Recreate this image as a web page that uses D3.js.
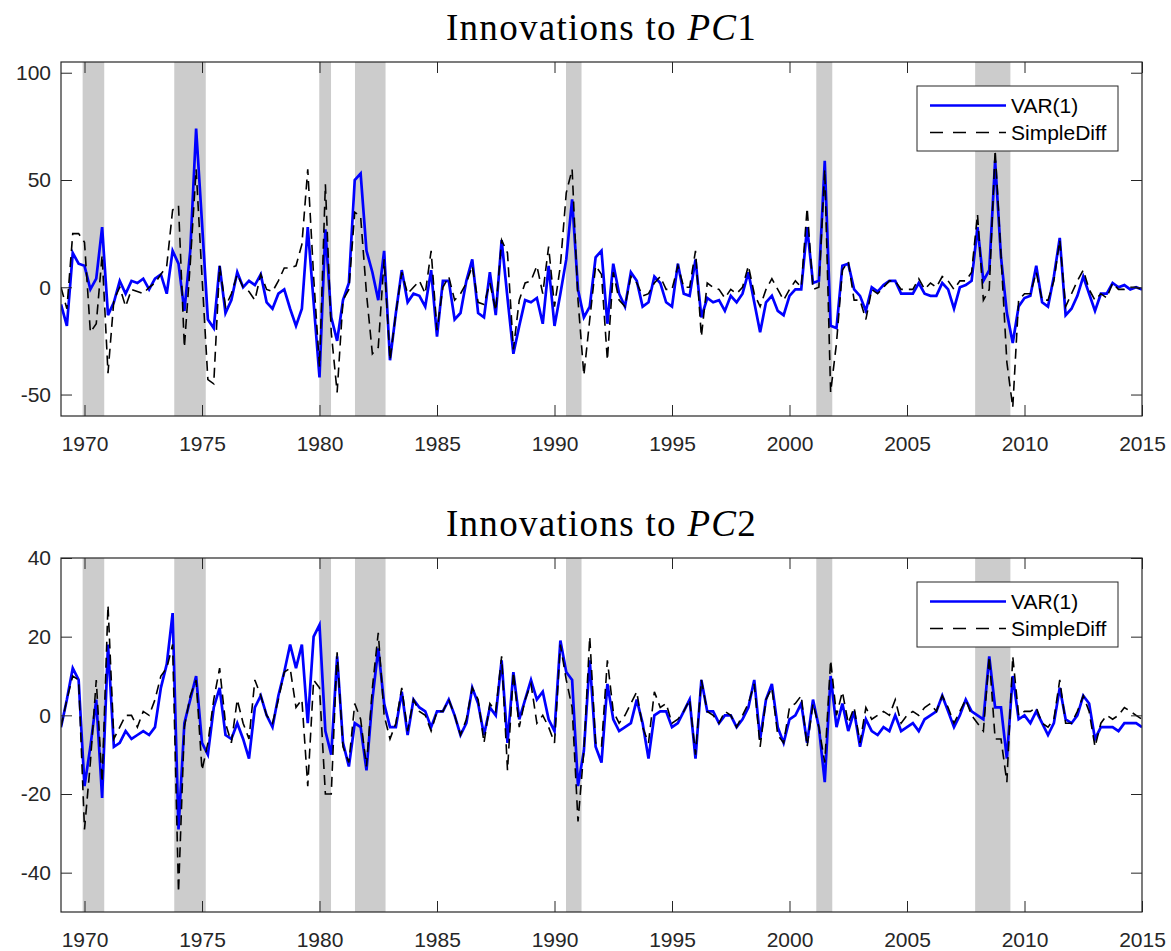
<!DOCTYPE html>
<html>
<head>
<meta charset="utf-8">
<script src="https://cdn.jsdelivr.net/npm/d3@7/dist/d3.min.js"></script>
<style>
  body { margin: 0; background: #fff; }
  svg { display: block; }
</style>
</head>
<body>
<div id="viz"></div>
<script>
// quarterly observations, 1969Q1 .. 2015Q1
const startYear = 1969;
const xDomain = [1969, 2015];
const xTicks = [1970, 1975, 1980, 1985, 1990, 1995, 2000, 2005, 2010, 2015];
const pc1Ticks = [-50, 0, 50, 100];
const pc2Ticks = [-40, -20, 0, 20, 40];
const seriesNames = ['VAR(1)', 'SimpleDiff'];
const titles = ['1', '2'];

// NBER recessions (decimal years)
const recessions = [
  [1969.92, 1970.84], [1973.82, 1975.16], [1979.99, 1980.49], [1981.51, 1982.81],
  [1990.49, 1991.15], [2001.14, 2001.82], [2007.90, 2009.40],
];

const pc1Var = [
  -8, -18, 16, 11, 10, -1, 4, 28, -13, -7,
  3, -3, 3, 2, 4, -1, 4, 6, -3, 17,
  11, -11, 17, 74, 30, -15, -19, 10, -12, -6,
  7, 0, 3, 1, 6, -7, -10, -3, -1, -10,
  -18, -10, 28, -7, -42, 27, -14, -25, -6, 2,
  50, 53, 17, 7, -6, 17, -34, -12, 8, -7,
  -3, -4, -9, 8, -23, 3, 3, -15, -12, 3,
  13, -12, -14, 7, -13, 22, -5, -31, -18, -6,
  -7, -5, -17, 10, -18, -3, 13, 41, -1, -14,
  -9, 14, 17, -17, 11, -3, -9, 7, 3, -9,
  -7, 5, 2, -7, -9, 11, -3, -4, 13, -14,
  -5, -7, -6, -11, -4, -7, -3, 7, -7, -21,
  -7, -4, -11, -13, -4, -1, -1, 28, 2, 3,
  59, -18, -19, 10, 11, -1, -4, -11, 0, -2,
  1, 3, 3, -3, -3, -3, 2, -3, -4, -4,
  2, -1, -10, 0, 1, 3, 28, 3, 8, 59,
  14, -12, -26, -9, -5, -4, 10, -7, -9, 5,
  23, -13, -10, -4, 5, -3, -11, -3, -3, 2,
  0, 1, -1, 0, -1,
];

const pc1Diff = [
  0, -10, 25, 25, 21, -21, -17, 15, -40, -6,
  0, -9, -1, -2, -3, 0, 2, 6, 10, 36,
  38, -28, 11, 55, 5, -43, -45, 10, -9, -3,
  6, 0, -2, -6, 6, -1, -2, 3, 9, 9,
  10, 20, 55, 5, -37, 48, -21, -49, -6, -1,
  35, 33, -3, -31, -28, 13, -34, -12, 7, -3,
  0, 3, -3, 17, -20, 0, 5, -6, -3, 2,
  10, -7, -8, 2, -11, 22, 16, -29, -6, 2,
  3, 10, -3, 19, -9, 10, 44, 55, -6, -41,
  -15, 10, 6, -34, 7, -6, -9, 5, 2, -4,
  -3, 2, 5, -1, -1, 10, 0, 0, 17, -23,
  2, 0, -1, -5, -1, -3, 0, 10, -3, -9,
  -1, 4, -1, -6, -1, 3, 0, 37, -1, 0,
  55, -49, -26, 8, 12, -6, -6, -15, -1, -3,
  0, 3, 3, -1, -1, -1, 4, -1, 2, 0,
  5, 3, -1, 3, 3, 7, 34, -6, -1, 64,
  15, -35, -56, -6, -3, -3, 7, -6, -6, 3,
  22, -9, -3, 3, 8, -1, -6, -3, -5, 2,
  -1, -1, 0, 0, -1,
];

const pc2Var = [
  -3, 4, 12, 9, -18, -8, 4, -21, 18, -8,
  -7, -4, -6, -5, -4, -5, -3, 7, 13, 26,
  -29, -2, 4, 10, -7, -10, 2, 7, -5, -6,
  -2, -6, -11, 2, 5, 0, -3, 5, 11, 18,
  12, 18, -2, 20, 23, -4, -10, 15, -7, -13,
  -2, -3, -14, 4, 17, 3, -3, -3, 6, -5,
  4, 2, 1, -3, 1, 1, 4, 0, -5, -2,
  7, 3, -5, 2, 0, 14, -7, 11, -1, 4,
  9, 4, 6, -1, -4, 19, 11, 9, -18, -9,
  14, -8, -12, 8, -1, -4, -3, -2, 4, -2,
  -11, 0, 1, 1, -3, -2, 1, 4, -11, 9,
  1, 1, -2, 0, 0, -3, -1, 2, 9, -6,
  4, 8, -3, -7, -1, 0, 3, -7, 4, -3,
  -17, 10, -3, 3, -4, 1, -8, -1, -4, -5,
  -3, -4, 0, -4, -3, -2, -4, -1, 0, 1,
  5, 1, -3, 0, 4, 1, 0, -1, 15, 2,
  2, -11, 10, -1, 0, -2, 1, -2, -5, -2,
  7, -1, -2, 0, 5, 3, -6, -3, -3, -3,
  -4, -2, -2, -2, -3,
];

const pc2Diff = [
  -3, 4, 10, 9, -29, -12, 9, -17, 28, -6,
  -3, 0, 0, -3, 1, 0, 4, 10, 12, 18,
  -45, -3, 5, 9, -14, -7, 4, 12, -2, -7,
  4, -2, -6, 9, 5, 0, -2, 4, 11, 12,
  2, 4, -18, 9, 7, -20, -20, 16, -8, -12,
  3, -1, -13, 7, 21, 0, -6, -2, 7, -4,
  4, 1, 0, -4, 1, 1, 4, 0, -5, -1,
  7, 4, -7, 3, 1, 15, -14, 11, -3, 4,
  8, -2, 0, -3, -7, 18, 9, 2, -27, -9,
  20, -7, -8, 14, 1, -2, 0, 3, 6, -3,
  -7, 6, 2, 3, -2, -1, 1, 4, -10, 9,
  1, 0, -2, 1, 0, -3, 0, 3, 8, -8,
  4, 7, -5, -7, 2, 3, 5, -8, 3, -3,
  -12, 14, 0, 6, -2, 2, -7, 2, -1, 0,
  1, 0, 4, -2, 0, 1, 0, 2, 3, 1,
  5, 2, -2, 1, 4, 0, -2, -4, 15, -6,
  -6, -17, 15, 0, 1, 1, 2, -2, -3, -1,
  9, -2, -2, 1, 5, 1, -8, -2, 0, -1,
  0, 2, 1, 0, -1,
];

const width = 1171;
const height = 951;
const plotLeft = 61;
const plotRight = 1142;
const plotHeight = 354;
const axisColor = '#262626';
const varColor = '#0000ff';
const diffColor = '#000000';
const shadeColor = '#cccccc';
const dashPattern = '10,6';
const legendDash = '13,10';
const tickFont = '"Liberation Sans", Arial, Helvetica, sans-serif';
const titleFont = '"Liberation Serif", "Times New Roman", serif';

const svg = d3.select('#viz').append('svg')
  .attr('width', width)
  .attr('height', height);

/** one panel: shaded recessions, the two innovation series, box axes, legend and title */
function drawPanel({top, pcNum, varData, diffData, yDomain, yTicks, idx}) {
  const x = d3.scaleLinear().domain(xDomain).range([plotLeft, plotRight]);
  const y = d3.scaleLinear().domain(yDomain).range([top + plotHeight, top]);
  const dates = varData.map((_, i) => startYear + i / 4);
  const g = svg.append('g');

  g.append('clipPath').attr('id', 'clip' + idx)
    .append('rect')
    .attr('x', plotLeft).attr('y', top)
    .attr('width', plotRight - plotLeft).attr('height', plotHeight);

  // recession shading
  g.append('g').selectAll('rect').data(recessions).join('rect')
    .attr('x', d => x(d[0]))
    .attr('width', d => x(d[1]) - x(d[0]))
    .attr('y', top)
    .attr('height', plotHeight)
    .attr('fill', shadeColor);

  const line = d3.line()
    .x((d, i) => x(dates[i]))
    .y(d => y(d));

  const lines = g.append('g').attr('clip-path', `url(#clip${idx})`);
  lines.append('path')
    .attr('d', line(varData))
    .style('fill', 'none')
    .style('stroke', varColor)
    .style('stroke-width', 2.7);
  lines.append('path')
    .attr('d', line(diffData))
    .style('fill', 'none')
    .style('stroke', diffColor)
    .style('stroke-width', 1.6)
    .style('stroke-dasharray', dashPattern);

  // axes, ticks pointing inward on all four sides
  const styleAxis = sel => {
    sel.select('.domain').remove();
    sel.selectAll('line').attr('stroke', axisColor);
    sel.selectAll('text')
      .attr('fill', axisColor)
      .style('font-family', tickFont)
      .style('font-size', '21px');
  };
  g.append('g')
    .attr('transform', `translate(0,${top + plotHeight})`)
    .call(d3.axisBottom(x).tickValues(xTicks).tickSize(-11).tickPadding(20).tickFormat(d => String(d)))
    .call(styleAxis);
  g.append('g')
    .attr('transform', `translate(0,${top})`)
    .call(d3.axisTop(x).tickValues(xTicks).tickSize(-11).tickFormat(''))
    .call(styleAxis);
  g.append('g')
    .attr('transform', `translate(${plotLeft},0)`)
    .call(d3.axisLeft(y).tickValues(yTicks).tickSize(-11).tickPadding(10).tickFormat(d => String(d)))
    .call(styleAxis);
  g.append('g')
    .attr('transform', `translate(${plotRight},0)`)
    .call(d3.axisRight(y).tickValues(yTicks).tickSize(-11).tickFormat(''))
    .call(styleAxis);

  g.append('rect')
    .attr('x', plotLeft).attr('y', top)
    .attr('width', plotRight - plotLeft).attr('height', plotHeight)
    .attr('fill', 'none')
    .attr('stroke', axisColor)
    .attr('stroke-width', 1.2);

  // title
  const t = g.append('text')
    .attr('x', (plotLeft + plotRight) / 2)
    .attr('y', top - 22)
    .attr('text-anchor', 'middle')
    .style('font-family', titleFont)
    .style('font-size', '37px')
    .style('letter-spacing', '1.3px')
    .attr('fill', '#000');
  t.append('tspan').text('Innovations to ');
  t.append('tspan').style('font-style', 'italic').text('PC');
  t.append('tspan').text(pcNum);

  // legend
  const lg = g.append('g');
  lg.append('rect')
    .attr('x', plotRight - 225).attr('y', top + 24)
    .attr('width', 201).attr('height', 65)
    .attr('fill', '#fff')
    .attr('stroke', axisColor)
    .attr('stroke-width', 1);
  const items = [
    {name: seriesNames[0], color: varColor, w: 2.7, dash: null},
    {name: seriesNames[1], color: diffColor, w: 1.6, dash: legendDash},
  ];
  items.forEach((it, i) => {
    const ly = top + 43.5 + i * 27;
    lg.append('line')
      .attr('x1', plotRight - 212).attr('x2', plotRight - 136)
      .attr('y1', ly).attr('y2', ly)
      .style('stroke', it.color)
      .style('stroke-width', it.w)
      .style('stroke-dasharray', it.dash);
    lg.append('text')
      .attr('x', plotRight - 131)
      .attr('y', ly)
      .attr('dy', '0.35em')
      .style('font-family', tickFont)
      .style('font-size', '21px')
      .attr('fill', '#000')
      .text(it.name);
  });
}

drawPanel({top: 62, pcNum: titles[0], varData: pc1Var, diffData: pc1Diff, yDomain: [-60, 105], yTicks: pc1Ticks, idx: 1});
drawPanel({top: 558, pcNum: titles[1], varData: pc2Var, diffData: pc2Diff, yDomain: [-50, 40], yTicks: pc2Ticks, idx: 2});
</script>
</body>
</html>
